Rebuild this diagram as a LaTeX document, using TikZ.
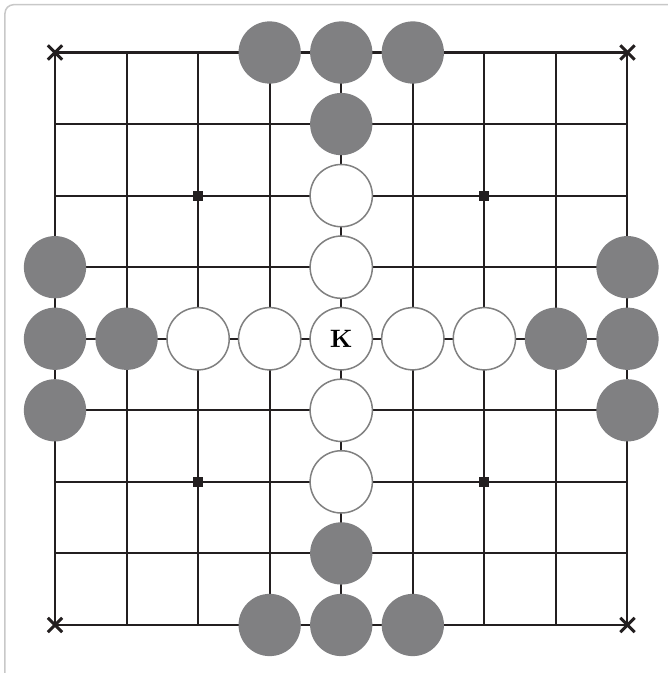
\documentclass[tikz,border=0pt]{standalone}
\usepackage{tikz}
\usetikzlibrary{positioning,calc}
\definecolor{boardLine}{RGB}{35,31,32}
\definecolor{blackStone}{RGB}{128,128,130}
\definecolor{frameGray}{RGB}{200,200,200}
\tikzset{
  attacker/.style={circle, fill=blackStone, minimum size=0.87cm, inner sep=0pt},
  defender/.style={circle, draw=gray, line width=0.6pt, fill=white, minimum size=0.87cm, inner sep=0pt},
  kingstone/.style={defender, font=\bfseries},
  throne/.style={fill=boardLine, minimum size=0.14cm, inner sep=0pt},
  cornermark/.style={boardLine, line width=1.2pt},
}

\begin{document}
\begin{tikzpicture}[x=1cm, y=-1cm]
        \useasboundingbox (-0.7686,-0.7337) rectangle (8.566,8.671);
        % frame
        \draw[frameGray, line width=0.6pt, rounded corners=0.12cm]
          (9,-0.668) -- (-0.699,-0.668) -- (-0.699,9);
        % board lines
        \foreach \i in {0,...,8} {
          \draw[boardLine, line width=0.8pt] (\i,0) -- (\i,8);
          \draw[boardLine, line width=0.8pt] (0,\i) -- (8,\i);
        }
        % corner crosses
        \foreach \x/\y in {0/0, 8/0, 0/8, 8/8} {
          \coordinate (c\x\y) at (\x,\y);
          \draw[cornermark] ($(c\x\y)+(-0.1,-0.1)$) -- ($(c\x\y)+(0.1,0.1)$);
          \draw[cornermark] ($(c\x\y)+(-0.1,0.1)$) -- ($(c\x\y)+(0.1,-0.1)$);
        }
        % marked points
        \foreach \x/\y in {2/2, 6/2, 2/6, 6/6}
          \node[throne] (m\x\y) at (\x,\y) {};
        % attackers
        \foreach \x/\y in {3/0, 4/0, 5/0, 4/1, 0/3, 0/4, 0/5, 1/4,
                           8/3, 8/4, 8/5, 7/4, 3/8, 4/8, 5/8, 4/7}
          \node[attacker] (a\x\y) at (\x,\y) {};
        % defenders
        \foreach \x/\y in {4/2, 4/3, 4/5, 4/6, 2/4, 3/4, 5/4, 6/4}
          \node[defender] (d\x\y) at (\x,\y) {};
        \node[kingstone] (king) at (4,4) {K};
      \end{tikzpicture}
\end{document}
